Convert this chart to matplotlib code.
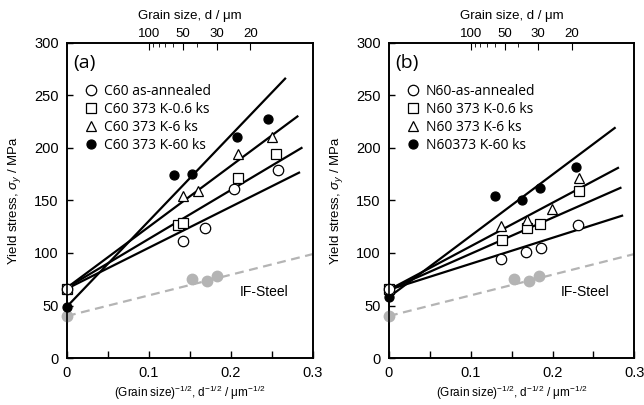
import numpy as np
import matplotlib
matplotlib.use("Agg")
import matplotlib.pyplot as plt

# ---------------- data ----------------
# panel (a) C60
a_ann_x = [0.0, 0.142, 0.168, 0.204, 0.257]
a_ann_y = [66, 111, 124, 161, 179]
a_06_x = [0.0, 0.135, 0.142, 0.208, 0.255]
a_06_y = [66, 127, 129, 171, 194]
a_6_x = [0.142, 0.160, 0.208, 0.250]
a_6_y = [154, 159, 194, 210]
a_60_x = [0.0, 0.130, 0.152, 0.207, 0.245]
a_60_y = [49, 174, 175, 210, 228]
# fitted lines (a): intercept, end-x, end-y
a_fit_y0 = [66, 67, 67, 49]
a_fit_x1 = [0.283, 0.286, 0.281, 0.266]
a_fit_y1 = [176.5, 200, 230, 266]

# panel (b) N60
b_ann_x = [0.0, 0.137, 0.167, 0.186, 0.231]
b_ann_y = [66, 94, 101, 105, 127]
b_06_x = [0.0, 0.138, 0.169, 0.185, 0.232]
b_06_y = [66, 112, 124, 128, 159]
b_6_x = [0.137, 0.169, 0.199, 0.232]
b_6_y = [126, 131, 142, 171]
b_60_x = [0.0, 0.130, 0.163, 0.185, 0.229]
b_60_y = [58, 154, 150, 162, 182]
b_fit_y0 = [65, 65, 65, 58]
b_fit_x1 = [0.285, 0.283, 0.280, 0.276]
b_fit_y1 = [135.5, 162, 181, 219]

# IF-steel reference
if_x = [0.0, 0.153, 0.171, 0.183]
if_y = [40, 75, 73, 78]
if_fit_x = [0.0, 0.30]
if_fit_y = [40, 99]

grain_major = [100, 50, 30, 20]
grain_minor = [90, 80, 70, 60, 40]

a_labels = ["C60 as-annealed", "C60 373 K-0.6 ks", "C60 373 K-6 ks", "C60 373 K-60 ks"]
b_labels = ["N60-as-annealed", "N60 373 K-0.6 ks", "N60 373 K-6 ks", "N60373 K-60 ks"]

plt.rcParams['font.family'] = ['Liberation Sans', 'DejaVu Sans']
plt.rcParams['mathtext.fontset'] = 'custom'
plt.rcParams['mathtext.rm'] = 'Liberation Sans'
plt.rcParams['mathtext.it'] = 'Liberation Sans:italic'

fig = plt.figure(figsize=(6.44, 4.05), dpi=100)
axA = fig.add_axes([0.104, 0.116, 0.382, 0.778])
axB = fig.add_axes([0.604, 0.116, 0.381, 0.778])

GRAY = '#b4b4b4'


def panel(ax, tag, data, fit_y0, fit_x1, fit_y1, labels):
    # fit lines
    for y0, x1, y1 in zip(fit_y0, fit_x1, fit_y1):
        ax.plot([0, x1], [y0, y1], color='black', lw=1.6, zorder=2)
    ax.plot(if_fit_x, if_fit_y, color=GRAY, lw=1.6, ls=(0, (4, 2.5)), zorder=2)
    ax.plot(if_x, if_y, 'o', color=GRAY, ms=7.5, mec=GRAY, zorder=3, clip_on=False)
    styles = [dict(marker='o', mfc='white', mec='black', ms=7.5, mew=0.9),
              dict(marker='s', mfc='white', mec='black', ms=7, mew=0.9),
              dict(marker='^', mfc='white', mec='black', ms=7.5, mew=0.9),
              dict(marker='o', mfc='black', mec='black', ms=6.5, mew=0.9)]
    order = [1, 0, 2, 3] if tag == '(a)' else [3, 1, 2, 0]
    handles = [None] * 4
    for i in order:
        (xs, ys) = data[i]
        h, = ax.plot(xs, ys, ls='none', zorder=4 + order.index(i), clip_on=False, **styles[i])
        handles[i] = h
    ax.legend(handles, labels, loc='upper left', bbox_to_anchor=(0.03, 0.90),
              frameon=False, handletextpad=0.4, labelspacing=0.22,
              borderaxespad=0.3, handlelength=1.0,
              prop={'family': ['Open Sans', 'DejaVu Sans'], 'size': 10})
    ax.text(0.025, 0.965, tag, transform=ax.transAxes, fontsize=14, va='top', ha='left',
            family=['Open Sans', 'DejaVu Sans'])
    ax.text(0.27, 63, 'IF-Steel', fontsize=10, ha='right', va='center')

    ax.set_xlim(0, 0.3)
    ax.set_ylim(0, 300)
    ax.set_xticks([0, 0.1, 0.2, 0.3])
    ax.set_xticklabels(['0', '0.1', '0.2', '0.3'])
    ax.set_xticks([0.05, 0.15, 0.25], minor=True)
    ax.set_yticks([0, 50, 100, 150, 200, 250, 300])
    ax.tick_params(axis='both', which='both', direction='in', labelsize=10.5, length=5, width=1, pad=6)
    ax.tick_params(axis='y', which='both', left=True, right=False, length=4)
    ax.tick_params(axis='x', which='both', top=False)
    for s in ax.spines.values():
        s.set_linewidth(1.2)
    ax.set_ylabel(r'Yield stress, $\sigma_y$ / MPa', fontsize=9.5, labelpad=8)
    ax.set_xlabel(r'(Grain size)$^{\mathdefault{-1/2}}$, d$^{\mathdefault{-1/2}}$ / $\mathdefault{\mu}$m$^{\mathdefault{-1/2}}$',
                  fontsize=8.5, va='center')
    ax.xaxis.set_label_coords(0.5, -0.112)

    top = ax.twiny()
    top.set_xlim(0, 0.3)
    top.set_xticks([1 / np.sqrt(d) for d in grain_major])
    top.set_xticklabels([str(d) for d in grain_major])
    top.set_xticks([1 / np.sqrt(d) for d in grain_minor], minor=True)
    top.tick_params(axis='x', which='major', direction='in', length=5, labelsize=9.5, pad=2)
    top.tick_params(axis='x', which='minor', direction='in', length=3)
    top.set_xlabel('Grain size, d / μm', fontsize=9.5)
    top.xaxis.set_label_coords(0.5, 1.075)
    for s in top.spines.values():
        s.set_linewidth(1.2)


panel(axA, '(a)', [(a_ann_x, a_ann_y), (a_06_x, a_06_y), (a_6_x, a_6_y), (a_60_x, a_60_y)],
      a_fit_y0, a_fit_x1, a_fit_y1, a_labels)
panel(axB, '(b)', [(b_ann_x, b_ann_y), (b_06_x, b_06_y), (b_6_x, b_6_y), (b_60_x, b_60_y)],
      b_fit_y0, b_fit_x1, b_fit_y1, b_labels)

fig.savefig('out.png', dpi=100)
